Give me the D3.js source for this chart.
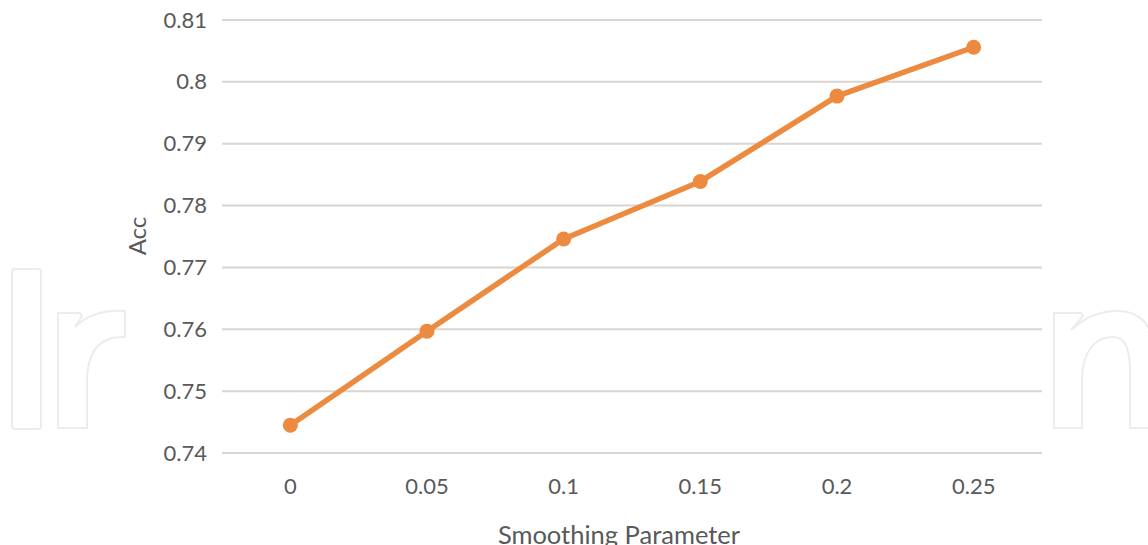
<!DOCTYPE html>
<html><head><meta charset="utf-8">
<script src="https://cdn.jsdelivr.net/npm/d3@7"></script>
<style>body{margin:0;background:#fff;}svg{display:block;}</style>
</head><body>
<svg id="c" width="1148" height="545"></svg>
<script>
const categories = ["0","0.05","0.1","0.15","0.2","0.25"];
const accValues = [0.7445, 0.7597, 0.7746, 0.7839, 0.7977, 0.8056];
const yTicks = [0.74,0.75,0.76,0.77,0.78,0.79,0.8,0.81];
const yTickLabels = ["0.74","0.75","0.76","0.77","0.78","0.79","0.8","0.81"];

const svg = d3.select("#c");
const font = "Lato, 'Open Sans', sans-serif";
const textColor = "#595959";

// faint watermark outlines
const wm = svg.append("g").attr("fill","none").attr("stroke","#ececec").attr("stroke-width",2);
wm.append("rect").attr("x",12).attr("y",269).attr("width",29).attr("height",160).attr("rx",3);
wm.append("path").attr("d","M58,313 L80,313 L82,316 L75,327 C90,312 110,310 125,311 L125,337 C105,336 88,345 87,380 L87,428 L58,428 Z");
wm.append("path").attr("d","M1054,313 L1081,313 L1083,316 L1071,330 C1085,317 1100,311 1117,311 C1140,311 1152,325 1152,345 L1152,428 L1130,428 L1130,372 C1130,347 1125,337 1112,337 C1095,337 1082,352 1082,380 L1082,428 L1054,428 Z");

const x = d3.scaleBand().domain(categories).range([222,1042]);
const y = d3.scaleLinear().domain([0.74,0.81]).range([453,20]);

// gridlines
svg.append("g").selectAll("line").data(yTicks).join("line")
  .attr("x1",222).attr("x2",1042)
  .attr("y1",d=>y(d)).attr("y2",d=>y(d))
  .attr("stroke","#d9d5d3").attr("stroke-width",2);

// y tick labels
const yAxis = d3.axisLeft(y).tickValues(yTicks).tickFormat((d,i)=>yTickLabels[i]).tickSize(0).tickPadding(15);
const ya = svg.append("g").attr("transform","translate(222,0)").call(yAxis);
ya.select(".domain").remove();
ya.selectAll("text").attr("font-family",font).attr("font-size",22).attr("fill",textColor);

// x tick labels
const xAxis = d3.axisBottom(x).tickSize(0).tickPadding(25);
const xa = svg.append("g").attr("transform","translate(0,453)").call(xAxis);
xa.select(".domain").remove();
xa.selectAll("text").attr("font-family",font).attr("font-size",22).attr("fill",textColor);

// axis titles
svg.append("text").attr("x",619).attr("y",544).attr("text-anchor","middle")
  .attr("font-family",font).attr("font-size",25.5).attr("fill",textColor).text("Smoothing Parameter");
svg.append("text").attr("transform","translate(146,236) rotate(-90)").attr("text-anchor","middle")
  .attr("font-family",font).attr("font-size",24).attr("fill",textColor).text("Acc");

// line
const pts = categories.map((c,i)=>[x(c)+x.bandwidth()/2, y(accValues[i])]);
svg.append("path").attr("d",d3.line()(pts)).attr("fill","none")
  .attr("stroke","#ec8b40").attr("stroke-width",5.5).attr("stroke-linejoin","round");
svg.append("g").selectAll("circle").data(pts).join("circle")
  .attr("cx",d=>d[0]).attr("cy",d=>d[1]).attr("r",7.5).attr("fill","#ec8b40");
</script>
</body></html>
